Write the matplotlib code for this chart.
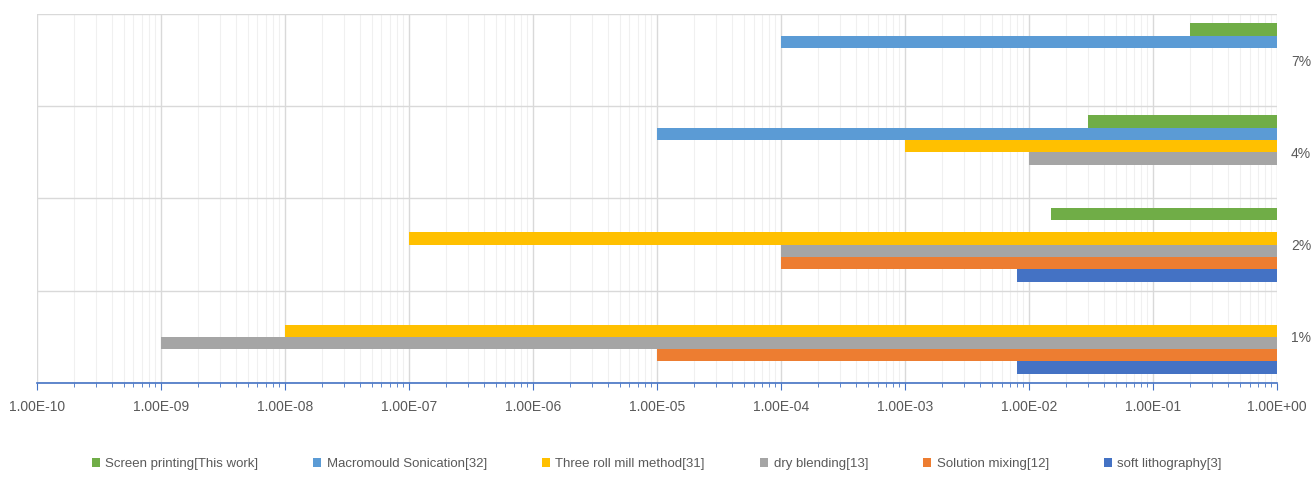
import numpy as np
import matplotlib
matplotlib.use("Agg")
import matplotlib.pyplot as plt
from matplotlib.ticker import LogLocator, FuncFormatter, NullFormatter

plt.rcParams['font.family'] = ['Liberation Sans', 'DejaVu Sans']

# concentration categories (bottom to top)
categories = ["1%", "2%", "4%", "7%"]

# lower bound of each method's range per category (None = no data)
soft_lithography = [8e-3, 8e-3, None, None]
solution_mixing = [1e-5, 1e-4, None, None]
dry_blending = [1e-9, 1e-4, 1e-2, None]
three_roll_mill = [1e-8, 1e-7, 1e-3, None]
macromould = [None, None, 1e-5, 1e-4]
screen_printing = [None, 1.5e-2, 3e-2, 0.2]

series = [
    ("soft lithography[3]", soft_lithography, "#4472C4"),
    ("Solution mixing[12]", solution_mixing, "#ED7D31"),
    ("dry blending[13]", dry_blending, "#A5A5A5"),
    ("Three roll mill method[31]", three_roll_mill, "#FFC000"),
    ("Macromould Sonication[32]", macromould, "#5B9BD5"),
    ("Screen printing[This work]", screen_printing, "#70AD47"),
]

text_gray = "#595959"
axis_blue = "#4472C4"
top_end = 1.0

fig = plt.figure(figsize=(13.11, 4.79), dpi=100)
ax = fig.add_axes([0.0282, 0.2004, 0.9459, 0.7704])

y = np.arange(len(categories))
n = len(series)
bar_h = 0.8 / n
handles = []
for i, (name, vals, color) in enumerate(series):
    offset = (i - (n - 1) / 2) * bar_h
    ys, lefts, widths = [], [], []
    for k, v in enumerate(vals):
        if v is None:
            continue
        ys.append(y[k] + offset)
        lefts.append(v)
        widths.append(top_end - v)
    h = ax.barh(ys, widths, left=lefts, height=bar_h, color=color,
                label=name, zorder=3)
    handles.append(h)

ax.set_xscale("log")
ax.set_xlim(1e-10, 1e0)
ax.set_ylim(-0.5, len(categories) - 0.5)

ax.xaxis.set_major_locator(LogLocator(base=10, numticks=20))
ax.xaxis.set_minor_locator(LogLocator(base=10, subs=np.arange(2, 10), numticks=200))
ax.xaxis.set_major_formatter(FuncFormatter(lambda v, p: f"{v:.2E}"))
ax.xaxis.set_minor_formatter(NullFormatter())

ax.set_yticks(y)
ax.set_yticklabels(categories)
ax.set_yticks(np.arange(-0.5, len(categories), 1), minor=True)
ax.yaxis.tick_right()
ax.tick_params(axis="y", which="both", length=0, pad=10,
               labelcolor=text_gray, labelsize=10)
ax.tick_params(axis="x", which="major", direction="out", length=5,
               color=axis_blue, labelcolor=text_gray, labelsize=10, pad=7)
ax.tick_params(axis="x", which="minor", direction="out", length=3,
               color=axis_blue)

ax.grid(axis="x", which="major", color="#D9D9D9", linewidth=1.0, zorder=0)
ax.grid(axis="x", which="minor", color="#F0F0F0", linewidth=0.8, zorder=0)
ax.grid(axis="y", which="minor", color="#D9D9D9", linewidth=1.0, zorder=0)
ax.grid(axis="y", which="major", visible=False)

for side in ["top", "left", "right"]:
    ax.spines[side].set_visible(False)
ax.spines["bottom"].set_color(axis_blue)
ax.spines["bottom"].set_linewidth(1.2)
ax.spines["bottom"].set_zorder(4)

leg = fig.legend(handles[::-1], [s[0] for s in series][::-1],
                 loc="center", bbox_to_anchor=(0.501, 0.031), ncol=6,
                 frameon=False, fontsize=9.5, handlelength=0.6,
                 handleheight=0.6, handletextpad=0.4, columnspacing=4.2)
for t in leg.get_texts():
    t.set_color(text_gray)

fig.savefig("out.png", dpi=100)
